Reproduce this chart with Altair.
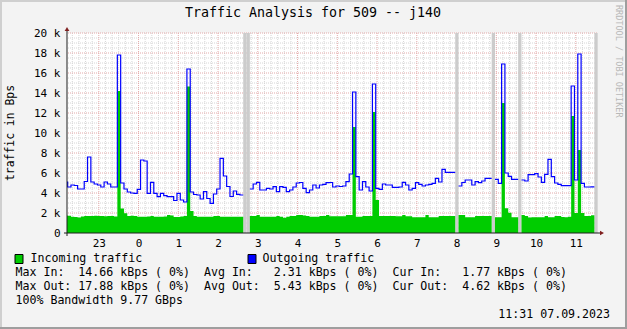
import altair as alt
import pandas as pd

# ---------------- data (5-minute samples, values in kBps) ----------------
T0 = -112          # start of first sample, minutes relative to midnight (22:08)
STEP = 5           # sample length, minutes

out_k = [
    5.1, 4.6, 4.8, 4.75, 4.4, 4.4, 5.15, 7.6, 5.1, 4.9, 4.8, 4.6,
    5.1, 4.9, 4.6, 4.6, 17.8, 5.0, 4.4, 4.1, 4.0, 3.97, 4.37, 7.3,
    7.2, 3.97, 5.07, 3.97, 3.63, 3.97, 3.73, 3.63, 3.63, 3.25, 3.97, 3.3,
    3.1, 16.4, 4.1, 3.85, 3.8, 3.4, 4.13, 3.45, 2.97, 3.9, 4.4, 7.47,
    5.7, 4.65, 3.65, 4.2, 3.87, 3.8, None, None, 4.4, 4.9, 5.07, 4.3,
    4.3, 4.47, 4.4, 4.63, 4.13, 4.63, 4.57, 4.13, 4.3, 4.6, 5.0, 5.05,
    4.47, 4.03, 4.3, 4.8, 4.5, 4.8, 4.87, 5.03, 5.05, 4.6, 4.7, 4.65,
    4.7, 5.13, 5.9, 14.1, 5.63, 4.3, 5.13, 4.6, 4.2, 14.9, 4.47, 4.37,
    4.9, 4.8, 4.8, 4.57, 4.57, 4.6, 5.07, 4.8, 4.3, 4.47, 5.03, 4.87,
    4.7, 4.8, 4.87, 4.97, 5.47, 5.1, 6.37, 6.07, 6.07, 6.07, None, 4.7,
    5.05, 5.3, 5.3, 4.8, 5.13, 5.03, 5.2, 5.47, 5.47, None, 5.37, 4.97,
    16.9, 6.0, 5.67, 5.37, 5.37, None, 5.3, 5.2, 5.83, 5.83, 5.93, 5.6,
    5.07, 5.87, 7.37, 5.63, 5.0, 4.87, 4.73, 4.73, 4.73, 14.7, 5.3, 17.9,
    4.97, 4.6, 4.6, 4.62, None,
]
in_k = [
    1.75, 1.73, 1.63, 1.6, 1.55, 1.65, 1.7, 1.7, 1.7, 1.72, 1.7, 1.7,
    1.68, 1.7, 1.7, 1.65, 14.2, 2.45, 1.97, 1.7, 1.72, 1.7, 1.63, 1.63,
    1.63, 1.65, 1.7, 1.63, 1.63, 1.63, 1.65, 1.8, 1.75, 1.6, 1.6, 1.65,
    1.7, 14.66, 2.2, 1.7, 1.63, 1.63, 1.63, 1.63, 1.63, 1.7, 1.7, 1.63,
    1.63, 1.63, 1.63, 1.63, 1.63, 1.63, None, None, 1.7, 1.7, 1.8, 1.63,
    1.63, 1.63, 1.63, 1.63, 1.7, 1.63, 1.53, 1.63, 1.7, 1.7, 1.8, 1.8,
    1.75, 1.7, 1.63, 1.63, 1.63, 1.7, 1.7, 1.8, 1.67, 1.67, 1.67, 1.67,
    1.67, 1.8, 1.8, 10.6, 1.63, 1.63, 1.7, 1.7, 1.7, 12.1, 3.3, 1.7,
    1.7, 1.7, 1.7, 1.7, 1.67, 1.67, 1.8, 1.67, 1.67, 1.57, 1.57, 1.57,
    1.57, 1.8, 1.57, 1.57, 1.57, 1.7, 1.7, 1.7, 1.7, 1.7, None, 1.8,
    1.8, 1.57, 1.57, 1.57, 1.7, 1.7, 1.7, 1.7, 1.7, None, 1.57, 1.57,
    13.0, 2.47, 2.03, 1.57, 1.57, None, 1.8, 1.7, 1.55, 1.57, 1.57, 1.57,
    1.57, 1.7, 1.57, 1.57, 1.7, 1.7, 1.6, 1.57, 1.62, 11.7, 2.0, 8.3,
    2.0, 1.7, 1.7, 1.77, None,
]

hour_ticks = [-60, 0, 60, 120, 180, 240, 300, 360, 420, 480, 540, 600, 660]
y_ticks = [0, 2000, 4000, 6000, 8000, 10000, 12000, 14000, 16000, 18000, 20000]

title_text = "Traffic Analysis for 509 -- j140"
y_title = "traffic in Bps"
legend_in = "Incoming traffic"
legend_out = "Outgoing traffic"
stat_in = "Max In:  14.66 kBps ( 0%)  Avg In:   2.31 kBps ( 0%)  Cur In:   1.77 kBps ( 0%)"
stat_out = "Max Out: 17.88 kBps ( 0%)  Avg Out:  5.43 kBps ( 0%)  Cur Out:  4.62 kBps ( 0%)"
bandwidth = "100% Bandwidth 9.77 GBps"
stamp = "11:31 07.09.2023"
watermark = "RRDTOOL / TOBI OETIKER"

# ---------------- build tables ----------------
rows = []
seg = 0
open_seg = False
last = None
for i, (o, n) in enumerate(zip(out_k, in_k)):
    t = T0 + STEP * i
    if o is None:
        if open_seg:
            rows.append(dict(t=t, out=last[0] * 1000, inn=last[1] * 1000, seg=seg))
            seg += 1
        open_seg = False
        continue
    rows.append(dict(t=t, out=o * 1000, inn=n * 1000, seg=seg))
    last = (o, n)
    open_seg = True
if open_seg:
    rows.append(dict(t=T0 + STEP * len(out_k), out=last[0] * 1000, inn=last[1] * 1000, seg=seg))
df = pd.DataFrame(rows)

unk = pd.DataFrame(
    [dict(t=T0 + STEP * i, t2=T0 + STEP * (i + 1)) for i, o in enumerate(out_k) if o is None]
)

minor_x = pd.DataFrame({"gx": [m for m in range(-100, 692, 10) if m % 60 != 0]})
major_x = pd.DataFrame({"gx": hour_ticks})
minor_y = pd.DataFrame({"gy": [v for v in range(500, 20000, 500) if v % 2000 != 0]})
major_y = pd.DataFrame({"gy": y_ticks[1:]})

MONO = "DejaVu Sans Mono"
W, H = 530, 200

xscale = alt.Scale(domain=[-108, 692], nice=False, zero=False)
yscale = alt.Scale(domain=[0, 20000], nice=False)
xaxis = alt.Axis(values=hour_ticks, title=None, grid=False, domain=False, ticks=False,
                 labelExpr="'' + ((datum.value / 60 + 24) % 24)", labelPadding=4,
                 labelFont=MONO, labelFontSize=11, labelColor="#000000")
yaxis = alt.Axis(values=y_ticks, title=None, grid=False, domain=False, ticks=False,
                 labelExpr="datum.value == 0 ? '0' : (datum.value / 1000) + ' k'",
                 labelPadding=7, labelFont=MONO, labelFontSize=11, labelColor="#000000")

X = lambda f: alt.X(f, type="quantitative", scale=xscale, axis=xaxis)
Y = lambda f: alt.Y(f, type="quantitative", scale=yscale, axis=yaxis, stack=None)

MINOR = "#D6D6D6"
MAJOR = "#E3A9A9"

g1 = alt.Chart(minor_x).mark_rule(color=MINOR, strokeDash=[1, 1], strokeWidth=1).encode(x=X("gx"))
g2 = alt.Chart(minor_y).mark_rule(color=MINOR, strokeDash=[1, 1], strokeWidth=1).encode(y=Y("gy"))
g3 = alt.Chart(major_x).mark_rule(color=MAJOR, strokeDash=[1, 1], strokeWidth=1).encode(x=X("gx"))
g4 = alt.Chart(major_y).mark_rule(color=MAJOR, strokeDash=[1, 1], strokeWidth=1).encode(y=Y("gy"))

bands = alt.Chart(unk).mark_rect(color="#CCCCCC").encode(
    x=X("t"), x2="t2", y=alt.value(0), y2=alt.value(H))

area = alt.Chart(df).mark_area(color="#00CC00", interpolate="step-after", clip=True).encode(
    x=X("t"), y=Y("inn"), detail="seg:N")
line = alt.Chart(df).mark_line(color="#0000FF", interpolate="step-after", strokeWidth=1.2, clip=True).encode(
    x=X("t"), y=Y("out"), detail="seg:N")

one = alt.Data(values=[{}])
AXC = "#1F1F1F"
ARROW = "#7F1F1F"
yline = alt.Chart(one).mark_rule(color=AXC, strokeWidth=1).encode(
    x=alt.value(0), y=alt.value(H + 3), y2=alt.value(-3))
xline = alt.Chart(one).mark_rule(color=AXC, strokeWidth=1).encode(
    y=alt.value(H), x=alt.value(-3), x2=alt.value(W + 4))
yarrow = alt.Chart(one).mark_point(shape="triangle-up", filled=True, color=ARROW, size=22, opacity=1).encode(
    x=alt.value(0), y=alt.value(-4))
xarrow = alt.Chart(one).mark_point(shape="triangle-right", filled=True, color=ARROW, size=22, opacity=1).encode(
    x=alt.value(W + 5), y=alt.value(H))


def txt(s, x, y, size=11.6, align="left", color="#000000", angle=0, baseline="middle"):
    return alt.Chart(one).mark_text(
        text=s.replace(" ", "\u00a0"), font=MONO, fontSize=size, align=align,
        baseline=baseline, color=color, angle=angle).encode(x=alt.value(x), y=alt.value(y))


OX, OY = 67, 33  # plot origin in page pixels
texts = [
    txt(title_text, 313 - OX, 13 - OY, size=13.3, align="center"),
    txt(y_title, 11 - OX, 133 - OY, size=11.4, align="center", angle=270),
    txt(watermark, 619 - OX, 5 - OY, size=8.5, align="left", color="#B8B8B8", angle=90),
    txt(legend_in, 30.5 - OX, 259 - OY),
    txt(legend_out, 262.5 - OX, 259 - OY),
    txt(stat_in, 15.5 - OX, 273 - OY),
    txt(stat_out, 15.5 - OX, 287 - OY),
    txt(bandwidth, 15.5 - OX, 301 - OY),
    txt(stamp, 610 - OX, 315 - OY, align="right"),
]

boxes = [
    alt.Chart(one).mark_rect(color="#00CC00", stroke="#000000", strokeWidth=1).encode(
        x=alt.value(15 - OX), x2=alt.value(23 - OX), y=alt.value(254.5 - OY), y2=alt.value(263.5 - OY)),
    alt.Chart(one).mark_rect(color="#0000FF", stroke="#000000", strokeWidth=1).encode(
        x=alt.value(248 - OX), x2=alt.value(256 - OX), y=alt.value(254.5 - OY), y2=alt.value(263.5 - OY)),
]

frame = [
    alt.Chart(one).mark_rule(color="#CFCFCF", strokeWidth=2).encode(
        x=alt.value(-OX), x2=alt.value(627 - OX), y=alt.value(1 - OY)),
    alt.Chart(one).mark_rule(color="#CFCFCF", strokeWidth=2).encode(
        y=alt.value(-OY), y2=alt.value(329 - OY), x=alt.value(1 - OX)),
    alt.Chart(one).mark_rule(color="#9E9E9E", strokeWidth=2).encode(
        x=alt.value(-OX), x2=alt.value(627 - OX), y=alt.value(328 - OY)),
    alt.Chart(one).mark_rule(color="#9E9E9E", strokeWidth=2).encode(
        y=alt.value(-OY), y2=alt.value(329 - OY), x=alt.value(626 - OX)),
]

chart = alt.layer(
    g1, g2, g3, g4, bands, area, line, yline, xline, yarrow, xarrow, *texts, *boxes, *frame
).properties(
    width=W, height=H, autosize="none",
    padding={"left": OX, "top": OY, "right": 627 - OX - W, "bottom": 329 - OY - H},
    background="#F3F3F3",
).configure_view(stroke=None, fill="#FFFFFF")

chart.save("out.html", embed_options={"renderer": "svg", "actions": False})
